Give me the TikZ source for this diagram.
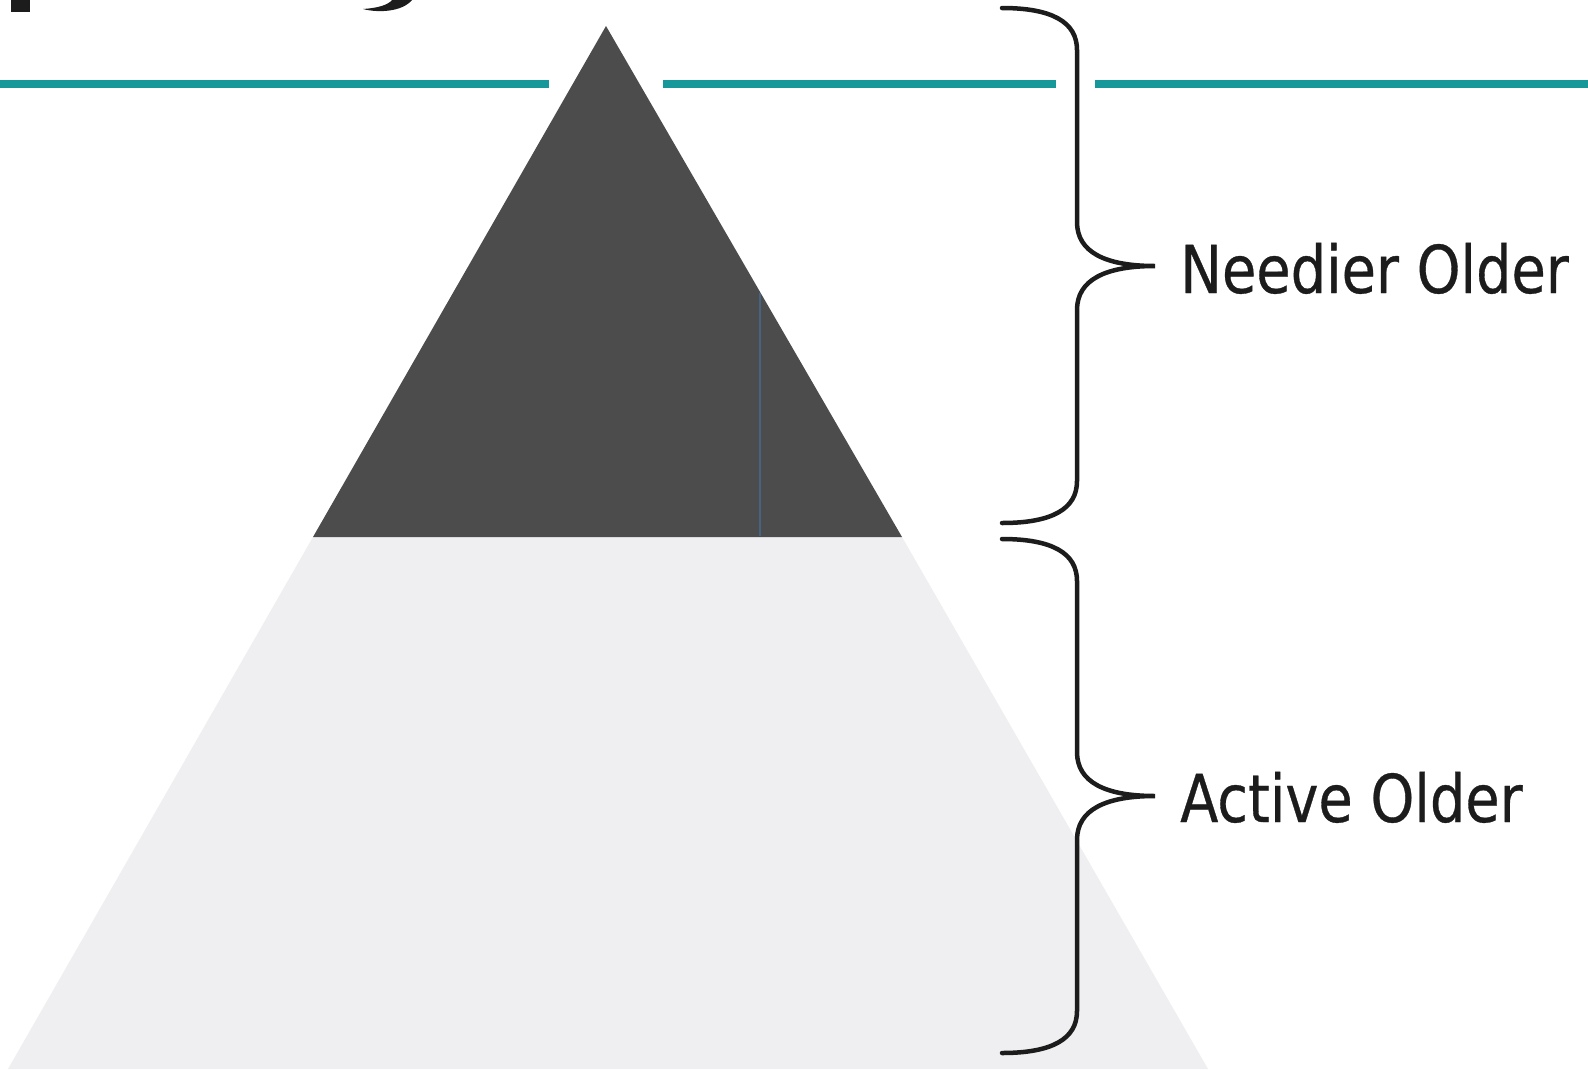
\documentclass[tikz,border=0pt]{standalone}
\usepackage{fontspec}
\usepackage{graphicx}
\newfontfamily\lblfont[FakeBold=0.5]{DejaVu Sans Condensed}
\definecolor{tealline}{RGB}{22,152,154}
\definecolor{darktri}{RGB}{76,76,76}
\definecolor{lighttrap}{RGB}{239,239,241}
\definecolor{ink}{RGB}{28,28,28}
\definecolor{streak}{RGB}{70,100,130}
\begin{document}
\begin{tikzpicture}[x=1pt,y=-1pt,
  rule/.style={tealline,line width=7.5pt},
  bracestroke/.style={ink,line width=4.5pt,line cap=round},
  lbl/.style={anchor=base west,inner sep=0pt,text=ink,font=\lblfont\fontsize{66}{70}\selectfont}]
\useasboundingbox[fill=white] (0,0) rectangle (1588,1069);
% cropped title glyph remnants
\fill[ink] (11,0) rectangle (30,12);
\fill[ink] (363,9) .. controls (378,13) and (402,12) .. (412,0) -- (392,0) .. controls (388,5) and (378,8) .. (363,9) -- cycle;
% teal rule
\draw[rule] (0,84) -- (549,84);
\draw[rule] (663,84) -- (1056,84);
\draw[rule] (1095,84) -- (1588,84);
% pyramid
\fill[lighttrap] (313,537) -- (902,537) -- (1208,1069) -- (8,1069) -- cycle;
\fill[darktri] (606,26) -- (902,537) -- (313,537) -- cycle;
\draw[streak,line width=2pt] (760,293) -- (760,536);
% braces
\draw[bracestroke] (1002,8) .. controls (1052,8) and (1077,22) .. (1077,50)
  -- (1077,222) .. controls (1077,252) and (1105,266) .. (1155,266)
  .. controls (1105,266) and (1077,280) .. (1077,310)
  -- (1077,481) .. controls (1077,509) and (1052,523) .. (1002,523);
\draw[bracestroke] (1002,539) .. controls (1052,539) and (1077,553) .. (1077,581)
  -- (1077,752) .. controls (1077,782) and (1105,796) .. (1155,796)
  .. controls (1105,796) and (1077,810) .. (1077,840)
  -- (1077,1011) .. controls (1077,1039) and (1052,1053) .. (1002,1053);
% labels
\node[lbl] (needier) at (1180,293) {\scalebox{0.94}[1]{Needier Older}};
\node[lbl] (active) at (1180,822) {\scalebox{0.94}[1]{Active Older}};
\end{tikzpicture}
\end{document}
